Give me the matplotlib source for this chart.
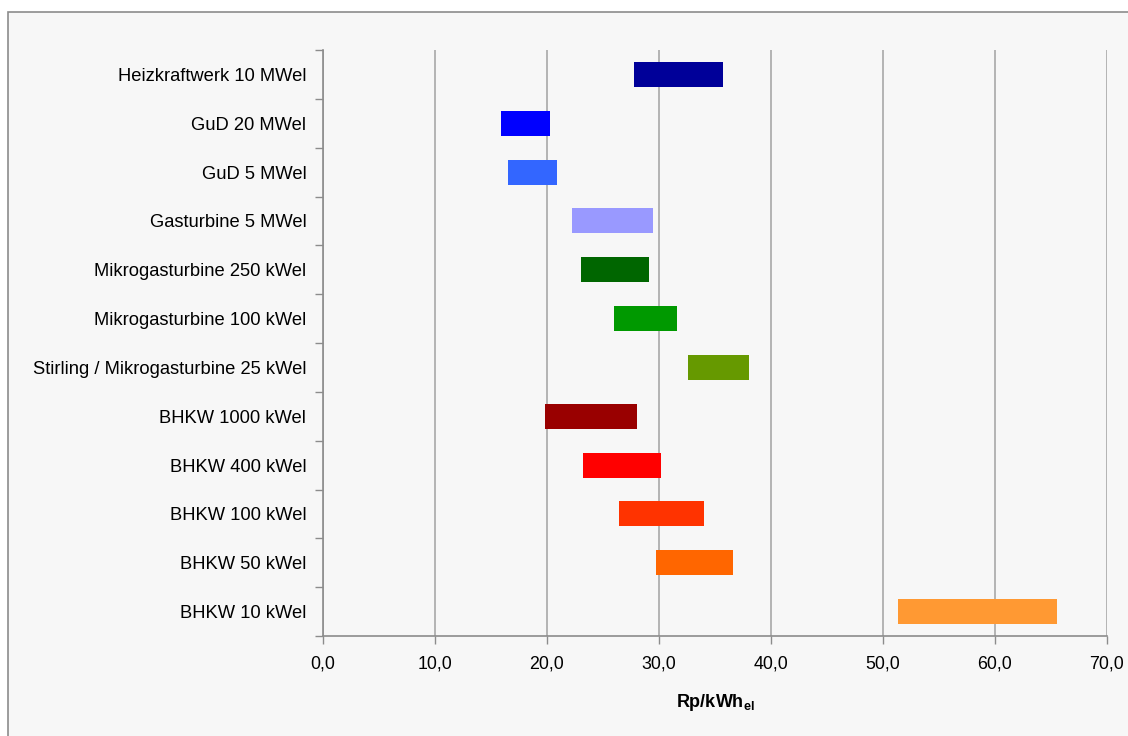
import numpy as np
import matplotlib.pyplot as plt
from matplotlib.patches import Rectangle

plt.rcParams['font.family'] = ['Liberation Sans', 'DejaVu Sans']
plt.rcParams['mathtext.fontset'] = 'custom'
plt.rcParams['mathtext.bf'] = 'Liberation Sans:bold'
plt.rcParams['mathtext.rm'] = 'Liberation Sans'

# data (Rp/kWh_el, min and max of each range)
labels = ["Heizkraftwerk 10 MWel", "GuD 20 MWel", "GuD 5 MWel", "Gasturbine 5 MWel",
          "Mikrogasturbine 250 kWel", "Mikrogasturbine 100 kWel",
          "Stirling / Mikrogasturbine 25 kWel", "BHKW 1000 kWel", "BHKW 400 kWel",
          "BHKW 100 kWel", "BHKW 50 kWel", "BHKW 10 kWel"]
low = [27.75, 15.85, 16.5, 22.2, 23.0, 25.95, 32.55, 19.8, 23.2, 26.4, 29.7, 51.3]
high = [35.7, 20.25, 20.85, 29.45, 29.1, 31.6, 38.0, 28.0, 30.15, 34.0, 36.6, 65.5]
colors = ["#000099", "#0000ff", "#3366ff", "#9999ff", "#006600", "#009900",
          "#669900", "#990000", "#ff0000", "#ff3300", "#ff6600", "#ff9933"]
xticks = [0, 10, 20, 30, 40, 50, 60, 70]

W, H = 1128, 736
fig = plt.figure(figsize=(W / 100, H / 100), dpi=100)
fig.patch.set_facecolor('white')
# outer chart frame
fig.patches.append(Rectangle((8 / W, -0.1), 1.2, 1 - 12 / H + 0.1, transform=fig.transFigure,
                             facecolor='#f7f7f7', edgecolor='#8c8c8c', lw=1.2, zorder=-10))

ax = fig.add_axes([323 / W, 1 - 636 / H, (1107 - 323) / W, (636 - 50) / H])
ax.set_facecolor('none')

n = len(labels)
y = np.arange(n)
width = np.array(high) - np.array(low)
ax.barh(y, width, left=low, height=0.51, color=colors, zorder=3)

ax.set_ylim(n - 0.5, -0.5)
ax.set_xlim(0, 70)
ax.set_yticks(y)
ax.set_yticklabels(labels, fontsize=13.2)
ax.set_yticks(np.arange(-0.5, n, 1), minor=True)
ax.tick_params(axis='y', which='major', length=0, pad=12)
ax.tick_params(axis='y', which='minor', length=6, color='#8c8c8c', width=1)
ax.set_xticks(xticks)
ax.set_xticklabels([f"{v:.1f}".replace('.', ',') for v in xticks], fontsize=12.8)
ax.tick_params(axis='x', length=6, color='#8c8c8c', width=1, pad=8)
ax.xaxis.grid(True, color='#a8a8a8', lw=1.2, zorder=1)
ax.set_axisbelow(True)

for s in ['top', 'right']:
    ax.spines[s].set_visible(False)
for s in ['left', 'bottom']:
    ax.spines[s].set_color('#8c8c8c')
    ax.spines[s].set_linewidth(1.2)

ax.set_xlabel(r'$\mathbf{Rp/kWh_{el}}$', fontsize=13, labelpad=14)

fig.savefig('out.png', dpi=100)
